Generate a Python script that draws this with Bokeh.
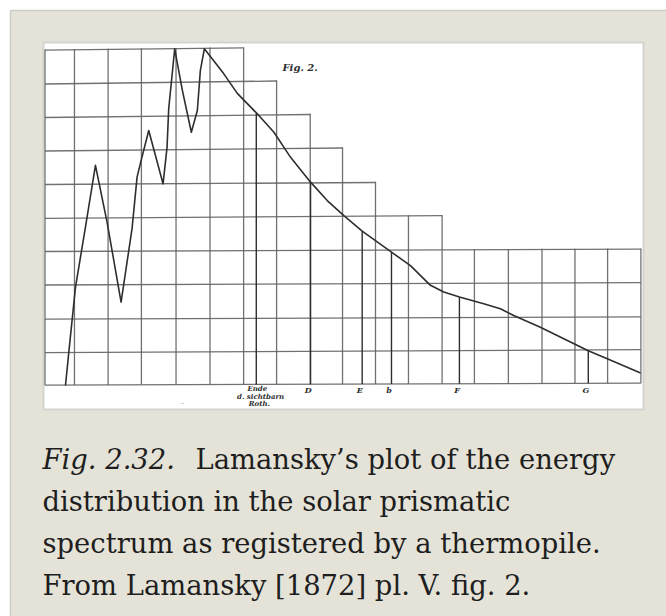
import numpy as np
from bokeh.plotting import figure
from bokeh.models import Range1d
from bokeh.core.properties import value
from bokeh.embed import file_html
from bokeh.resources import INLINE

# ---------------------------------------------------------------------------
# Lamansky (1872), pl. V fig. 2: thermopile deflection along the solar
# prismatic spectrum. x = position along the spectrum, y = deflection,
# both in divisions of the plotting grid.
# ---------------------------------------------------------------------------
curve_x = [0.72, 0.82, 1.02, 1.32, 1.62, 1.97, 2.39, 2.72, 2.87, 2.97,
           3.22, 3.65, 3.77, 3.82, 4.00, 4.23, 4.50, 4.68, 4.77, 4.89,
           5.47, 5.88, 6.48, 6.98, 7.48, 8.08, 8.58, 9.08, 9.63, 10.51,
           11.08, 11.68, 12.08, 12.55, 13.28, 13.78, 14.18, 14.98, 16.42,
           16.99, 17.99]
curve_y = [0.00, 0.99, 2.93, 4.73, 6.57, 4.87, 2.49, 4.69, 6.22, 6.63,
           7.61, 6.02, 7.11, 8.26, 10.05, 8.81, 7.56, 8.21, 9.40, 10.05,
           9.31, 8.72, 8.11, 7.56, 6.81, 6.07, 5.52, 5.07, 4.61, 3.98,
           3.58, 2.99, 2.79, 2.64, 2.44, 2.29, 2.09, 1.74, 1.04,
           0.80, 0.37]

# Fraunhofer lines marked under the curve
line_labels = ["D", "E", "b", "F", "G"]
line_x = [8.08, 9.63, 10.51, 12.55, 16.42]

# end of the visible red
red_end_x = 6.45
red_end_text = ["Ende", "d. sichtbarn", "Roth."]

# hand-ruled grid: vertical rulings and the row each one reaches up to
col_x = [0.105, 0.99, 2.0, 3.0, 4.04, 5.06, 6.07, 7.06, 8.07, 9.04, 10.03,
         11.02, 12.03, 13.0, 14.02, 15.03, 16.02, 17.0, 18.0]
col_top_row = [10, 10, 10, 10, 10, 10, 10, 9, 8, 7, 6, 5, 5, 4, 4, 4, 4, 4, 4]

# horizontal rulings: height at the left and right ends, and where they stop
row_left = [0.01, 0.98, 1.98, 3.0, 4.0, 4.99, 6.0, 7.0, 8.0, 9.0, 10.01]
row_right = [0.07, 1.07, 2.05, 3.07, 4.07, 5.07, 6.06, 7.09, 8.09, 9.09, 10.08]
row_end = [18.0, 18.0, 18.0, 18.0, 18.0, 12.03, 10.03, 9.04, 8.07, 7.06, 6.07]

caption_italic = "Fig. 2.32."
caption_lines = ["Lamansky\u2019s plot of the energy",
                 "distribution in the solar prismatic",
                 "spectrum as registered by a thermopile.",
                 "From Lamansky [1872] pl. V. fig. 2."]

# ---------------------------------------------------------------------------
W, H = 666, 616
SX, SY = 33.3, 33.5          # pixels per grid division
X0, Y0 = 41.0, 385.0         # canvas position of the grid origin


def cx(px):
    return (px - X0) / SX


def cy(py):
    return (Y0 - py) / SY


p = figure(width=W, height=H, output_backend="svg", toolbar_location=None,
           x_range=Range1d(cx(0), cx(W)), y_range=Range1d(cy(H), cy(0)),
           x_axis_location=None, y_axis_location=None, min_border=0,
           background_fill_color="white", border_fill_color="white")
p.outline_line_color = None
p.grid.visible = False

# page background and the white plate
p.quad(left=[cx(10)], right=[cx(W + 20)], top=[cy(10)], bottom=[cy(H + 20)],
       fill_color="#e5e3d8", line_color="#cdcdc8", line_width=1.5)
p.quad(left=[cx(43)], right=[cx(643)], top=[cy(42)], bottom=[cy(409)],
       fill_color="white", line_color="#d3d3cf", line_width=2)

GRID = "#626262"
INK = "#2e2e2e"


def row_at(i, x):
    x_start = col_x[0]
    return row_left[i] + (row_right[i] - row_left[i]) * (x - x_start) / (row_end[i] - x_start)


# horizontal rulings
hx, hy = [], []
for i in range(len(row_left)):
    hx.append([col_x[0], row_end[i]])
    hy.append([row_left[i], row_right[i]])
p.multi_line(hx, hy, line_color=GRID, line_width=1.3, line_alpha=0.9)

# vertical rulings
vx, vy = [], []
for x, top in zip(col_x, col_top_row):
    vx.append([x, x])
    vy.append([row_at(0, x), row_at(top, x) + 0.02])
p.multi_line(vx, vy, line_color=GRID, line_width=1.3, line_alpha=0.9)

# Fraunhofer lines, from the base up to the curve
fx = [red_end_x] + line_x
fxs = [[x, x] for x in fx]
fys = [[row_at(0, x), float(np.interp(x, curve_x, curve_y))] for x in fx]
p.multi_line(fxs, fys, line_color=INK, line_width=1.4)

# energy curve
p.line(curve_x, curve_y, line_color=INK, line_width=1.6, line_join="round")

# labels of the lines
serif = value("DejaVu Serif")
p.text(x=[x - 0.07 for x in line_x], y=[cy(384)] * len(line_x), text=line_labels,
       text_font=serif, text_font_style="bold italic", text_font_size="8px",
       text_color=INK, text_align="center", text_baseline="top")
p.text(x=[red_end_x + 0.03, red_end_x + 0.13, red_end_x + 0.09],
       y=[cy(383.5), cy(391), cy(398.5)], text=red_end_text,
       text_font=serif, text_font_style="bold italic", text_font_size="7px",
       text_color=INK, text_align="center", text_baseline="top")
p.text(x=[cx(282)], y=[cy(67)], text=["Fig. 2."], text_font=serif,
       text_font_style="bold italic", text_font_size="10px", text_color=INK,
       text_align="left", text_baseline="alphabetic")
# small printer's mark under the plate
p.text(x=[cx(182)], y=[cy(400)], text=["\u207b"], text_font=serif,
       text_font_size="7px", text_color="#555555", text_align="center",
       text_baseline="top")

# caption
cap_size = "27.4px"
base = [459, 501, 543, 585]
p.text(x=[cx(42)], y=[cy(base[0])], text=[caption_italic], text_font=serif,
       text_font_style="italic", text_font_size=cap_size, text_color="#1e1e1e",
       text_baseline="alphabetic")
p.text(x=[cx(195)] + [cx(42)] * 3, y=[cy(b) for b in base], text=caption_lines,
       text_font=serif, text_font_size=cap_size, text_color="#1e1e1e",
       text_baseline="alphabetic")

open("out.html", "w").write(file_html(p, INLINE))
